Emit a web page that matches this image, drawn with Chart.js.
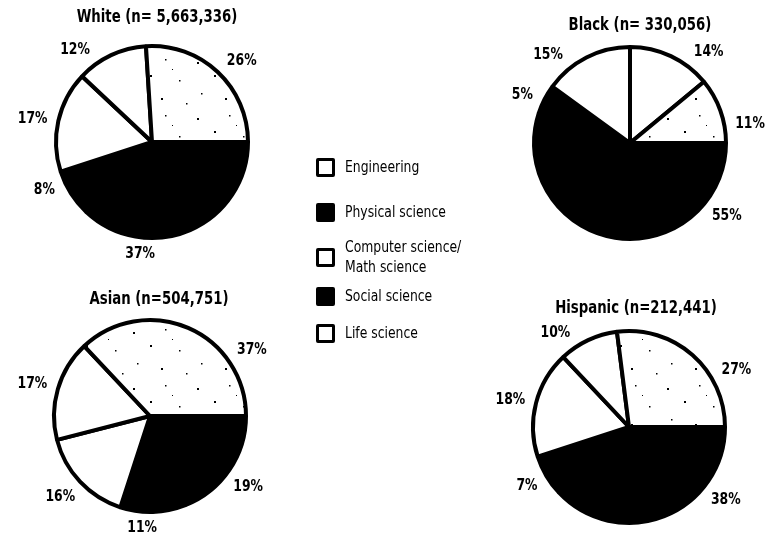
<!DOCTYPE html>
<html>
<head>
<meta charset="utf-8">
<script src="https://cdn.jsdelivr.net/npm/chart.js@4.4.1/dist/chart.umd.min.js"></script>
<style>
  html, body { margin: 0; padding: 0; background: #fff; }
  #wrap { position: relative; width: 771px; height: 540px; overflow: hidden; }
  #wrap canvas { position: absolute; }
  #legend {
    position: absolute; left: 316px; top: 0;
    font-family: 'DejaVu Sans Condensed', 'Liberation Sans', sans-serif;
    font-size: 16px; color: #000;
  }
  .row { position: absolute; left: 0; display: flex; align-items: center; width: 200px; }
  .box { width: 13px; height: 13px; border: 3px solid #000; border-radius: 2px; margin-right: 10px; flex: none; }
  .lbl { line-height: 20px; white-space: pre; transform: scaleX(0.86); transform-origin: left center; }
</style>
</head>
<body>
<div id="wrap">
  <canvas id="whiteChart" width="300" height="270" style="left:0;top:0"></canvas>
  <canvas id="blackChart" width="301" height="270" style="left:470px;top:0"></canvas>
  <canvas id="asianChart" width="300" height="270" style="left:0;top:270px"></canvas>
  <canvas id="hispanicChart" width="301" height="270" style="left:470px;top:270px"></canvas>
  <div id="legend"></div>
</div>
<script>
// --- Datos (porcentajes por campo, en el orden en que se dibujan las porciones) ---
const fields = ['Social science', 'Physical science', 'Computer science/Math science', 'Life science', 'Engineering'];
const whiteShares = [37, 8, 17, 12, 26];
const blackShares = [55, 5, 15, 14, 11];
const asianShares = [19, 11, 16, 17, 37];
const hispanicShares = [38, 7, 18, 10, 27];
const groupTitles = ['White (n= 5,663,336)', 'Black (n= 330,056)', 'Asian (n=504,751)', 'Hispanic (n=212,441)'];
const legendFields = ['Engineering', 'Physical science', 'Computer science/\nMath science', 'Social science', 'Life science'];

// --- Estilos ---
const condensed = "'DejaVu Sans Condensed', 'Liberation Sans', sans-serif";

// punteado ralo para ingeniería
function stipple() {
    const c = document.createElement('canvas');
    c.width = 64; c.height = 56;
    const g = c.getContext('2d');
    g.fillStyle = '#fff';
    g.fillRect(0, 0, 64, 56);
    g.fillStyle = '#000';
    [[5, 6, 2], [37, 3, 1.5], [22, 19, 2], [51, 24, 1.5], [9, 37, 1.5], [33, 42, 2], [58, 47, 1.5], [44, 13, 1]]
        .forEach(p => g.fillRect(p[0], p[1], p[2], p[2]));
    return g.createPattern(c, 'repeat');
}
const engFill = stipple();
const fieldFill = {
    'Social science': '#000',
    'Physical science': '#000',
    'Computer science/Math science': '#fff',
    'Life science': '#fff',
    'Engineering': engFill
};
const legendFill = ['#fff', '#000', '#fff', '#000', '#fff'];
const legendRowCenters = [167, 212, 257, 296, 333];

// texto comprimido horizontalmente, centrado en (x, y)
function narrowText(ctx, text, x, y, sx) {
    ctx.save();
    ctx.translate(x, y);
    ctx.scale(sx, 1);
    ctx.fillText(text, 0, 0);
    ctx.restore();
}

// Plugin: título y porcentajes fuera del círculo
const pieText = {
    id: 'pieText',
    afterDatasetsDraw(chart, args, opts) {
        const { ctx } = chart;
        const arcs = chart.getDatasetMeta(0).data;
        const values = chart.data.datasets[0].data;
        ctx.save();
        ctx.fillStyle = '#000';
        ctx.textAlign = 'center';
        ctx.textBaseline = 'middle';
        ctx.font = `bold 15px ${condensed}`;
        arcs.forEach((arc, i) => {
            const p = arc.getProps(['x', 'y', 'startAngle', 'endAngle', 'outerRadius'], true);
            const deg = opts.angles ? opts.angles[i] : null;
            const a = deg != null ? (deg - 90) * Math.PI / 180 : (p.startAngle + p.endAngle) / 2;
            const text = values[i] + '%';
            const w = ctx.measureText(text).width * 0.92;
            const d = p.outerRadius + 2 + opts.gap + Math.abs(Math.cos(a)) * w / 2 + Math.abs(Math.sin(a)) * 5.5;
            narrowText(ctx, text, p.x + Math.cos(a) * d, p.y + Math.sin(a) * d, 0.92);
        });
        ctx.font = `bold 18px ${condensed}`;
        narrowText(ctx, opts.title, opts.titleX, opts.titleY, 0.82);
        ctx.restore();
    }
};

function makePie(id, shares, title, pad, titlePos, angles) {
    new Chart(document.getElementById(id).getContext('2d'), {
        type: 'pie',
        data: {
            labels: fields,
            datasets: [{
                data: shares,
                backgroundColor: fields.map(f => fieldFill[f]),
                borderColor: '#000',
                borderWidth: 4,
                radius: 96
            }]
        },
        options: {
            responsive: false,
            animation: false,
            rotation: 90,
            layout: { padding: pad },
            events: [],
            plugins: {
                legend: { display: false },
                tooltip: { enabled: false },
                pieText: { title: title, titleX: titlePos[0], titleY: titlePos[1], angles: angles, gap: 8 }
            }
        },
        plugins: [pieText]
    });
}

makePie('whiteChart', whiteShares, groupTitles[0],
    { left: 52, right: 48, top: 42, bottom: 28 }, [157, 17], [186, 246, 281, 320, 48]);
makePie('blackChart', blackShares, groupTitles[1],
    { left: 60, right: 41, top: 43, bottom: 27 }, [170, 25], [127, 294, 317, 41, 81]);
makePie('asianChart', asianShares, groupTitles[2],
    { left: 50, right: 50, top: 46, bottom: 24 }, [159, 29], [126, 184, 228, 285, 57]);
makePie('hispanicChart', hispanicShares, groupTitles[3],
    { left: 59, right: 42, top: 57, bottom: 13 }, [166, 38], [127, 240, 283, 322, 62]);

// Leyenda común
const legend = document.getElementById('legend');
legendFields.forEach((name, i) => {
    const row = document.createElement('div');
    row.className = 'row';
    row.style.top = (legendRowCenters[i] - 21) + 'px';
    row.style.height = '42px';
    const box = document.createElement('div');
    box.className = 'box';
    box.style.background = legendFill[i];
    const lbl = document.createElement('div');
    lbl.className = 'lbl';
    lbl.textContent = name;
    row.appendChild(box);
    row.appendChild(lbl);
    legend.appendChild(row);
});
</script>
</body>
</html>
